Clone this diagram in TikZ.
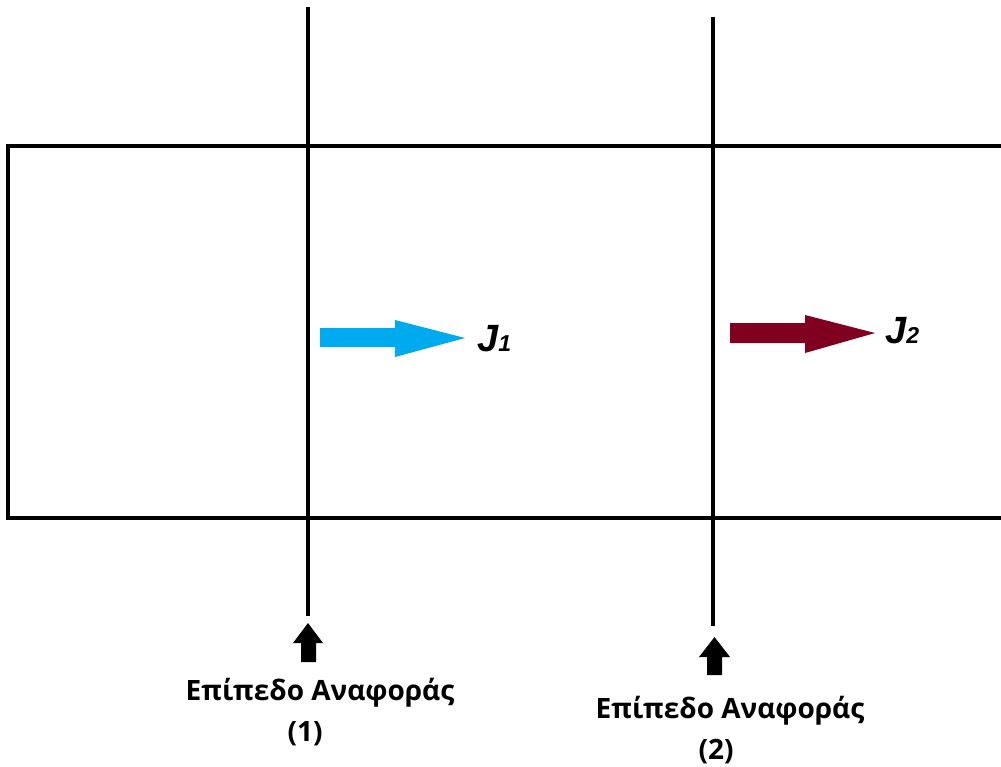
\documentclass[tikz,border=0pt]{standalone}
\usepackage{fontspec}
\setmainfont{Open Sans}
\newfontfamily\jfont{Liberation Sans}
\definecolor{jblue}{RGB}{0,170,238}
\definecolor{jred}{RGB}{128,0,32}
\newcommand{\jsub}[1]{{\fontsize{23}{24}\selectfont #1}}
\begin{document}
\begin{tikzpicture}[x=1pt,y=-1pt,
  frame/.style={line width=3.5pt},
  plane/.style={line width=4pt},
  lbl/.style={font=\bfseries\fontsize{28}{30}\selectfont, inner sep=0pt, anchor=base},
  jlbl/.style={font=\jfont\bfseries\itshape\fontsize{38}{40}\selectfont, inner sep=0pt, anchor=base west}]
\useasboundingbox (0,0) rectangle (1001,766);
% frame open on the right
\coordinate (fr1) at (1010,146);
\coordinate (fl1) at (8,146);
\coordinate (fl2) at (8,518);
\coordinate (fr2) at (1010,518);
\draw[frame] (fr1) -- (fl1) -- (fl2) -- (fr2);
% reference planes
\coordinate (p1t) at (308,7);
\coordinate (p1b) at (308,616);
\coordinate (p2t) at (713,17);
\coordinate (p2b) at (713,626);
\draw[plane] (p1t) -- (p1b);
\draw[plane] (p2t) -- (p2b);
% small up arrows
\fill (308,623) -- (323,643) -- (316,643) -- (316,662) -- (301,662) -- (301,643) -- (293,643) -- cycle;
\fill (714.5,637) -- (730,657) -- (722,657) -- (722,675) -- (707,675) -- (707,657) -- (699,657) -- cycle;
% flux arrows
\fill[jblue] (320,328) -- (395,328) -- (395,320) -- (465,338) -- (395,357) -- (395,347) -- (320,347) -- cycle;
\fill[jred] (730,323) -- (805,323) -- (805,315) -- (875,333) -- (805,353) -- (805,343) -- (730,343) -- cycle;
\node[jlbl] (j1) at (477,351) {J\jsub{1}};
\node[jlbl] (j2) at (885,343) {J\jsub{2}};
% labels
\node[lbl] (l1) at (320,700) {Επίπεδο Αναφοράς};
\node[lbl] (n1) at (305,741) {(1)};
\node[lbl] (l2) at (730,718) {Επίπεδο Αναφοράς};
\node[lbl] (n2) at (716,759) {(2)};
\end{tikzpicture}
\end{document}
